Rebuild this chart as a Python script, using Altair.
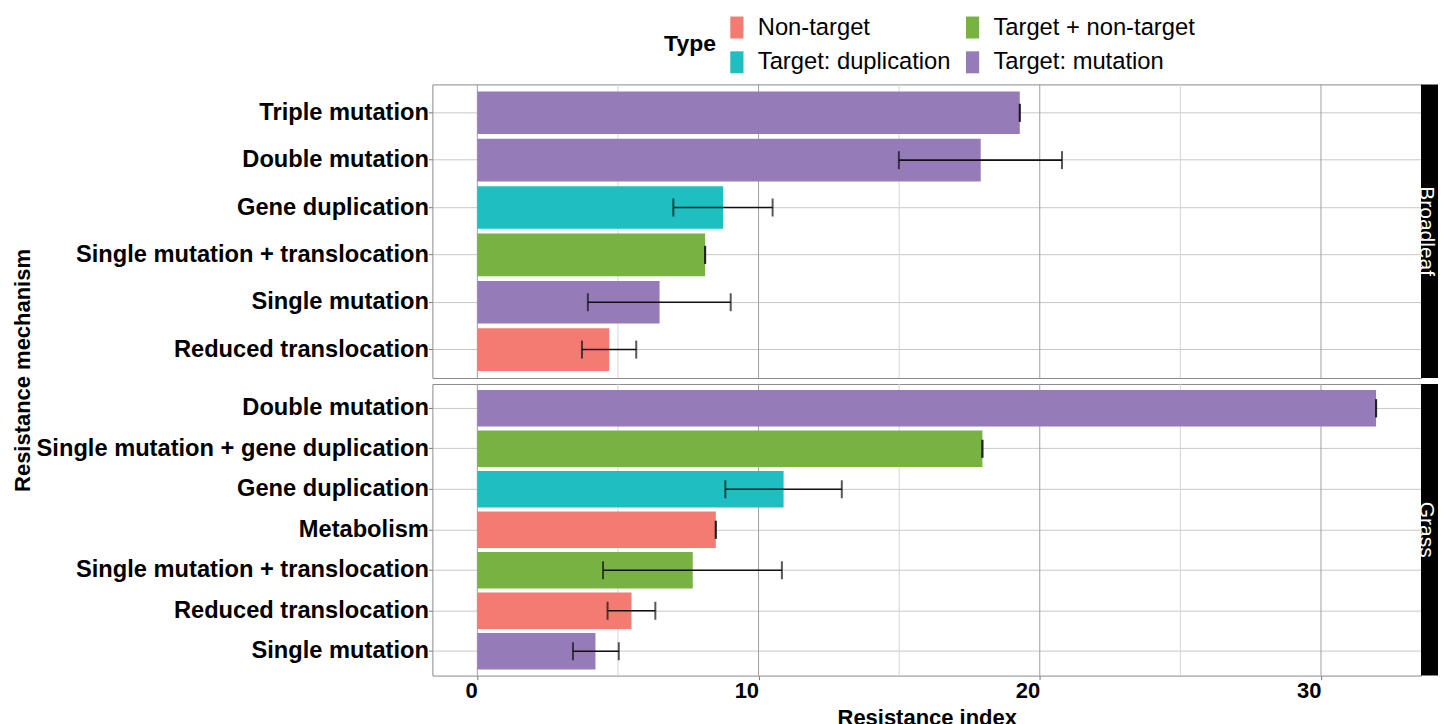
import altair as alt
import pandas as pd

# ---- data ----
types = ["Non-target", "Target + non-target", "Target: duplication", "Target: mutation"]
type_colors = ["#F47B72", "#78B242", "#1FBEC1", "#967BB9"]

bl_mech = ["Triple mutation", "Double mutation", "Gene duplication",
           "Single mutation + translocation", "Single mutation", "Reduced translocation"]
bl_type = ["Target: mutation", "Target: mutation", "Target: duplication",
           "Target + non-target", "Target: mutation", "Non-target"]
bl_val = [19.29, 17.90, 8.74, 8.10, 6.48, 4.69]
bl_lo = [19.29, 14.99, 6.97, 8.10, 3.93, 3.72]
bl_hi = [19.29, 20.79, 10.50, 8.10, 9.01, 5.65]

gr_mech = ["Double mutation", "Single mutation + gene duplication", "Gene duplication",
           "Metabolism", "Single mutation + translocation", "Reduced translocation",
           "Single mutation"]
gr_type = ["Target: mutation", "Target + non-target", "Target: duplication", "Non-target",
           "Target + non-target", "Non-target", "Target: mutation"]
gr_val = [31.96, 17.96, 10.89, 8.48, 7.66, 5.48, 4.20]
gr_lo = [31.96, 17.96, 8.82, 8.48, 4.47, 4.63, 3.40]
gr_hi = [31.96, 17.96, 12.96, 8.48, 10.83, 6.33, 5.03]

panels = ["Broadleaf", "Grass"]
major_ticks = [0, 10, 20, 30]
minor_ticks = [5, 15, 25]

FONT = "Liberation Sans"
W = 990
H_BL = 294
H_GR = 292
STRIP = 17

mx = max(bl_hi + gr_hi)
xdom = [-0.05 * mx, 1.05 * mx]
xscale = alt.Scale(domain=xdom, nice=False, zero=False)
cscale = alt.Scale(domain=types, range=type_colors)


def panel(name, mech, typ, val, lo, hi, height, bottom):
    df = pd.DataFrame({"mech": mech, "type": typ, "val": val, "lo": lo, "hi": hi})
    if bottom:
        xaxis = alt.Axis(values=major_ticks, grid=False, domain=False, ticks=True,
                         tickSize=4, tickColor="#777", labelFontSize=22,
                         labelFontWeight="bold", labelColor="black", labelFont=FONT,
                         labelAlign="right", labelPadding=1, labelFlush=False,
                         title="Resistance index", titleFontSize=22, titleFont=FONT,
                         titleFontWeight="bold", titleColor="black", titlePadding=6)
        xtitle = "Resistance index"
    else:
        xaxis = None
        xtitle = None
    yaxis = alt.Axis(grid=True, gridColor="#c8c8c8", gridWidth=1, bandPosition=0.5,
                     domain=False, tickSize=4, tickColor="#777", labelPadding=0,
                     labelFontSize=23.7, labelFontWeight="bold", labelColor="black",
                     labelFont=FONT, labelLimit=440, minExtent=394, maxExtent=394,
                     title="Resistance mechanism" if not bottom else None,
                     titleFontSize=22, titleFont=FONT, titleFontWeight="bold",
                     titleColor="black", titlePadding=4, titleY=286)
    yenc = alt.Y("mech:N", sort=mech, axis=yaxis,
                 scale=alt.Scale(paddingInner=0.1, paddingOuter=0.15))

    gmaj = alt.Chart(pd.DataFrame({"g": major_ticks})).mark_rule(
        color="#a0a0a0", strokeWidth=1).encode(
        x=alt.X("g:Q", scale=xscale, axis=xaxis, title=xtitle))
    gmin = alt.Chart(pd.DataFrame({"g": minor_ticks})).mark_rule(
        color="#d4d4d4", strokeWidth=1).encode(
        x=alt.X("g:Q", scale=xscale, axis=xaxis, title=xtitle))

    base = alt.Chart(df)
    bars = base.mark_bar().encode(
        x=alt.X("val:Q", scale=xscale, axis=xaxis, title=xtitle),
        y=yenc,
        color=alt.Color("type:N", scale=cscale, title="Type"),
    )
    err = base.mark_rule(color="#111", strokeWidth=1.6).encode(
        x=alt.X("lo:Q", scale=xscale, axis=xaxis, title=xtitle), x2="hi:Q", y=yenc)
    cap_lo = base.mark_tick(color="#111", size=18, thickness=2).encode(
        x=alt.X("lo:Q", scale=xscale, axis=xaxis, title=xtitle), y=yenc)
    cap_hi = base.mark_tick(color="#111", size=18, thickness=2).encode(
        x=alt.X("hi:Q", scale=xscale, axis=xaxis, title=xtitle), y=yenc)

    sdf = pd.DataFrame({"panel": [name]})
    strip = alt.Chart(sdf).mark_rect(color="black", clip=False).encode(
        x=alt.value(W), x2=alt.value(W + STRIP), y=alt.value(0), y2=alt.value(height))
    stext = alt.Chart(sdf).mark_text(angle=90, color="white", fontSize=21, font=FONT,
                                     align="center", baseline="middle").encode(
        x=alt.value(W + 4.5), y=alt.value(height / 2), text="panel:N")

    return alt.layer(gmin, gmaj, bars, err, cap_lo, cap_hi, strip, stext).properties(
        width=W, height=height)


top = panel(panels[0], bl_mech, bl_type, bl_val, bl_lo, bl_hi, H_BL, False)
bot = panel(panels[1], gr_mech, gr_type, gr_val, gr_lo, gr_hi, H_GR, True)

chart = alt.vconcat(top, bot, spacing=6, bounds="flush").properties(
    padding={"left": 3, "top": 7, "right": 0, "bottom": 0},
    background="white",
).configure_view(
    stroke="#8a8a8a", strokeWidth=1
).configure_legend(
    orient="none", legendX=232, legendY=-69, columns=2, direction="horizontal",
    titleOrient="left", titleAnchor="middle", titleBaseline="middle",
    titleFontSize=23, titleFont=FONT, titleFontWeight="bold", titleColor="black",
    titlePadding=9, labelFontSize=23.8, labelFont=FONT, labelColor="black",
    labelLimit=300, labelOffset=9, columnPadding=10, rowPadding=10,
    symbolType="M-0.6,-1H0.6V1H-0.6Z", symbolSize=484, symbolStrokeWidth=0,
    symbolOpacity=1, padding=0,
)

chart.save("out.html", embed_options={"renderer": "svg", "actions": False})
